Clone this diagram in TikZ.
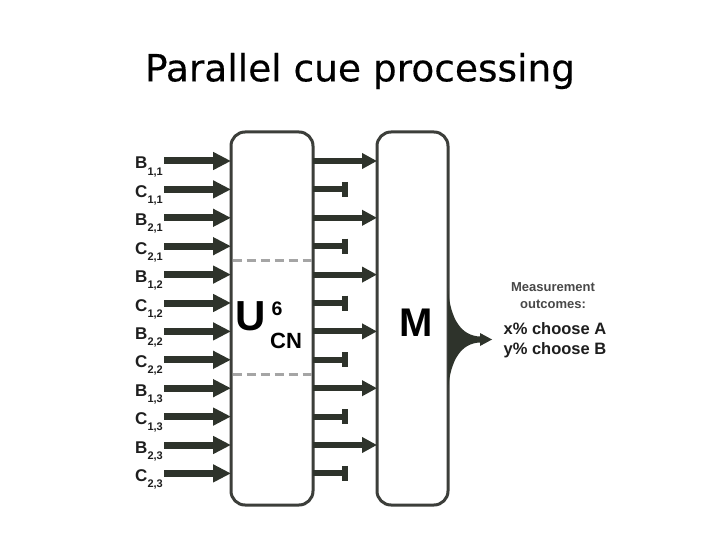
\documentclass[tikz,border=0pt]{standalone}
\usepackage{fontspec}
\setmainfont{Liberation Sans}
\newfontfamily\titlefont[FakeBold=0.35]{DejaVu Sans}
\usepackage{xcolor}
\usepackage{tikz}
\usetikzlibrary{arrows.meta, positioning, calc}
\definecolor{CueDark}{RGB}{46, 51, 43}
\definecolor{CueBorder}{RGB}{60, 62, 58}
\definecolor{CueDash}{RGB}{165, 165, 165}
\definecolor{CueText}{RGB}{30, 30, 30}
\definecolor{CueGray}{RGB}{72, 72, 72}
\newcommand{\cuename}[2]{#1\raisebox{-0.36em}{\fontsize{11}{11}\selectfont #2}}

\begin{document}
\begin{tikzpicture}[x=1pt,y=-1pt,
    cuebox/.style={draw=CueBorder, fill=white, line width=3pt, rounded corners=14pt, outer sep=0pt},
    cuelabel/.style={inner sep=0pt, text=CueText, font=\fontsize{17}{17}\selectfont\bfseries},
    inarrow/.style={CueDark, line width=7pt, -{Triangle[length=18pt,width=17pt]}},
    outarrow/.style={CueDark, line width=6pt, -{Triangle[length=15pt,width=15pt]}},
    outbar/.style={CueDark, line width=6pt, -{Bar[width=15pt]}},
    divider/.style={CueDash, line width=3pt, dash pattern=on 9pt off 5pt, shorten <=1.5pt, shorten >=1.5pt},
    outtext/.style={align=center, inner sep=0pt}]
  \path[use as bounding box] (0,0) rectangle (720,540);
  \fill[white] (0,0) rectangle (720,540);

  \node[inner sep=0pt] (title) at (360,71) {\titlefont\fontsize{37.5}{40}\selectfont Parallel cue processing};

  % the two boxes
  \node[cuebox, minimum width=82pt, minimum height=373pt] (U) at (272,318.5) {};
  \node[cuebox, minimum width=71pt, minimum height=373pt] (M) at (412.5,318.5) {};

  % cue rows
  \foreach \lt/\a/\b [count=\i] in {B/1/1, C/1/1, B/2/1, C/2/1, B/1/2, C/1/2,
                                   B/2/2, C/2/2, B/1/3, C/1/3, B/2/3, C/2/3} {
    \coordinate (row\i) at (164,{161+(\i-1)*28.4});
    \node[cuelabel, anchor=base east] (lab\i) at ($(row\i)+(-1,8)$) {\cuename{\lt}{\a,\b}};
    \draw[inarrow] (row\i) -- (row\i -| U.west);
    \ifodd\i
      \draw[outarrow] (row\i -| U.east) -- (row\i -| M.west);
    \else
      \draw[outbar] (row\i -| U.east) -- ++(35,0);
    \fi
  }

  \draw[divider] ($(row4 -| U.west)!0.5!(row5 -| U.west)$) -- ($(row4 -| U.east)!0.5!(row5 -| U.east)$);
  \draw[divider] ($(row8 -| U.west)!0.5!(row9 -| U.west)$) -- ($(row8 -| U.east)!0.5!(row9 -| U.east)$);

  % box labels
  \node[inner sep=0pt, font=\fontsize{42}{42}\selectfont\bfseries] (usym) at (251,316) {U};
  \node[inner sep=0pt, font=\fontsize{19.5}{19.5}\selectfont\bfseries] (usup) at (277,309) {6};
  \node[inner sep=0pt, font=\fontsize{22}{22}\selectfont\bfseries] (usub) at (286,341) {CN};
  \node[inner sep=0pt, font=\fontsize{40}{40}\selectfont\bfseries] (msym) at (416,322.5) {M};

  % measurement fan
  \fill[CueDark] (448,288) .. controls (450,320) and (462,336) .. (480,336.5)
    -- (480,333) -- (492,339.5) -- (480,346) -- (480,342.5)
    .. controls (462,343) and (450,359) .. (448,391) -- cycle;

  \node[outtext, text=CueGray, font=\fontsize{13}{17}\selectfont\bfseries] (meas) at (553,295.5) {Measurement\\outcomes:};
  \node[outtext, text=CueText, font=\fontsize{16.5}{20}\selectfont\bfseries] (choice) at (555,340) {x\% choose A\\y\% choose B};
\end{tikzpicture}
\end{document}
